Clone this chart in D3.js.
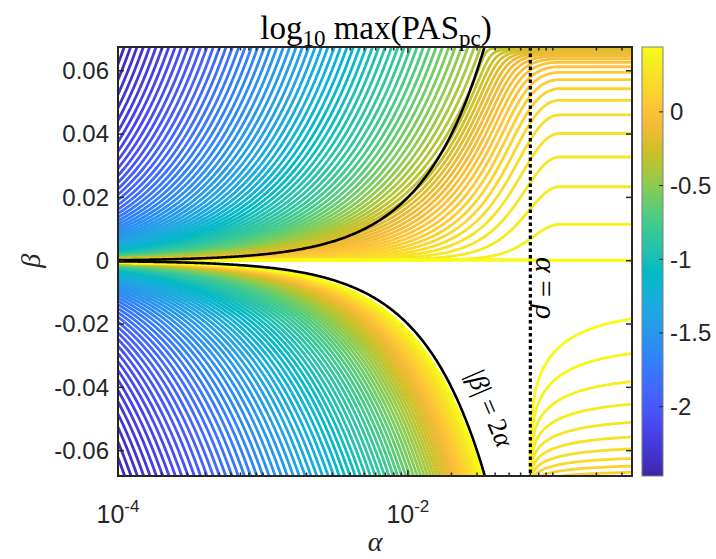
<!DOCTYPE html>
<meta charset="utf-8">
<script src="https://d3js.org/d3.v7.min.js"></script>
<style>
  body { margin: 0; background: #fff; }
</style>
<div id="my_dataviz"></div>
<script>

// axis limits and reference values
var alphaRange = [1e-4, 0.352];
var betaRange = [-0.068, 0.0675];
var rho = 0.07;

// colour limits and contour levels
var colorRange = [-2.47, 0.44];
var levelRange = [-2.45, 0.43];
var levelCount = 80;

// tick values
var yTicks = [-0.06, -0.04, -0.02, 0, 0.02, 0.04, 0.06];
var xMajor = [1e-4, 1e-2];
var xMajorLabels = ["-4", "-2"];
var cbTicks = [-2, -1.5, -1, -0.5, 0];

// parula colormap
var parula = ["#3e26a8","#4432cb","#4741e5","#4852f4","#4563fd","#3875fe","#2e87f7","#2797eb",
  "#20a5e3","#12b1d6","#02bac3","#24c1ae","#37c897","#57cc7a","#81cc59","#abc739",
  "#d1bf27","#f0ba36","#fec338","#fad62d","#f5e924","#f9fb15"];

// field shape
var leftPar = [0.83, 1.0, -0.30];          // d/dlog(alpha), d/dlog|beta|, offset
var capPar = [0.355, 0.068, 0.80];         // level reached for alpha >> rho, beta > 0
var blendEnd = 0.2;                        // decades past rho where that level is reached
var lowerBoost = [0.84, 1.24];             // rise towards |beta| = 2 alpha, beta < 0
var rightPar = [0.39, 0.075, 0.086, 0.908]; // alpha > rho, beta < 0

var W = 716, H = 559;
var box = {left: 118, top: 47, right: 632, bottom: 476};

var svg = d3.select("#my_dataviz").append("svg")
  .attr("width", W).attr("height", H);

var x = d3.scaleLog().domain(alphaRange).range([box.left, box.right]);
var y = d3.scaleLinear().domain(betaRange).range([box.bottom, box.top]);
var color = d3.scaleSequential(d3.piecewise(d3.interpolateRgb, parula)).domain(colorRange);

function leftField(a, B) {
  return leftPar[0] * Math.log10(a) - leftPar[1] * Math.log10(B) + leftPar[2];
}

function field(a, b) {
  var u = Math.log10(a), B = Math.abs(b);
  if (b >= 0) {
    var capInf = capPar[0] * Math.log10(Math.max(capPar[1] - b, 1e-6)) + capPar[2];
    if (b < 1e-7) return capInf;
    if (2 * a <= b) return leftField(a, b);
    // between |beta| = 2 alpha and a bit past alpha = rho
    var uc = Math.log10(b / 2), ue = Math.log10(rho) + blendEnd;
    var t = ue > uc ? Math.max(0, Math.min(1, (u - uc) / (ue - uc))) : 1;
    var S = Math.sin(Math.PI * t / 2);
    return leftField(b / 2, b) * (1 - S) + capInf * S;
  }
  if (a < rho) {
    var r = 2 * a / B;
    if (r >= 1) return 10;
    return leftField(a, B) + lowerBoost[0] * Math.pow(r, lowerBoost[1]);
  }
  return rightPar[0] * Math.log10(Math.max(rightPar[1] + b, 1e-6))
    - rightPar[2] * Math.log10(1 - rho / a) + rightPar[3];
}

// sample the field on a grid a bit wider than the axes
var pad = 6, step = 1.5;
var x0 = box.left - pad, y0 = box.top - pad;
var nx = Math.ceil((box.right - box.left + 2 * pad) / step) + 1;
var ny = Math.ceil((box.bottom - box.top + 2 * pad) / step) + 1;
var values = new Array(nx * ny);
for (var j = 0; j < ny; j++) {
  for (var i = 0; i < nx; i++) {
    var v = field(x.invert(x0 + i * step), y.invert(y0 + j * step));
    values[j * nx + i] = Math.max(-6, Math.min(10, v));
  }
}

var levels = d3.range(levelCount).map(function(k) {
  return levelRange[0] + k * (levelRange[1] - levelRange[0]) / (levelCount - 1);
});

var contours = d3.contours().size([nx, ny]).thresholds(levels)(values);

svg.append("clipPath").attr("id", "clip")
  .append("rect")
    .attr("x", box.left).attr("y", box.top)
    .attr("width", box.right - box.left).attr("height", box.bottom - box.top);

var ringLine = d3.line()
  .x(function(p) { return x(x.invert(x0 + (p[0] - 0.5) * step)); })
  .y(function(p) { return y(y.invert(y0 + (p[1] - 0.5) * step)); });

var gC = svg.append("g").attr("clip-path", "url(#clip)");
contours.forEach(function(c) {
  var d = "";
  c.coordinates.forEach(function(poly) {
    poly.forEach(function(ring) { d += ringLine(ring); });
  });
  gC.append("path")
    .attr("d", d)
    .attr("fill", "none")
    .attr("stroke", color(c.value))
    .attr("stroke-width", 2.8)
    .attr("stroke-linejoin", "round");
});

// |beta| = 2 alpha
var curveAlpha = d3.range(-4.2, -1.2, 0.01).map(function(e) { return Math.pow(10, e); });
[1, -1].forEach(function(s) {
  gC.append("path")
    .datum(curveAlpha)
    .attr("fill", "none")
    .attr("stroke", "#000")
    .attr("stroke-width", 2.6)
    .attr("d", d3.line()
      .x(function(a) { return x(a); })
      .y(function(a) { return y(s * 2 * a); }));
});

// alpha = rho
svg.append("line")
  .attr("x1", x(rho)).attr("x2", x(rho))
  .attr("y1", box.top).attr("y2", box.bottom)
  .attr("stroke", "#000")
  .attr("stroke-width", 3.2)
  .attr("stroke-dasharray", "3.5,3");

// frame and ticks
var axisCol = "#262626";
svg.append("rect")
  .attr("x", box.left).attr("y", box.top)
  .attr("width", box.right - box.left).attr("height", box.bottom - box.top)
  .attr("fill", "none").attr("stroke", axisCol).attr("stroke-width", 2);

var xMinor = [];
for (var e = -4; e <= -1; e++) {
  for (var m = 1; m <= 9; m++) {
    var t = m * Math.pow(10, e);
    if (t <= alphaRange[1] && xMajor.indexOf(t) < 0) xMinor.push(t);
  }
}
var gT = svg.append("g").attr("stroke", axisCol).attr("stroke-width", 1.5);
xMinor.forEach(function(t) {
  gT.append("line").attr("x1", x(t)).attr("x2", x(t)).attr("y1", box.bottom).attr("y2", box.bottom - 3.5);
  gT.append("line").attr("x1", x(t)).attr("x2", x(t)).attr("y1", box.top).attr("y2", box.top + 3.5);
});
xMajor.forEach(function(t) {
  gT.append("line").attr("x1", x(t)).attr("x2", x(t)).attr("y1", box.bottom).attr("y2", box.bottom - 6);
  gT.append("line").attr("x1", x(t)).attr("x2", x(t)).attr("y1", box.top).attr("y2", box.top + 6);
});
yTicks.forEach(function(t) {
  gT.append("line").attr("x1", box.left).attr("x2", box.left + 6).attr("y1", y(t)).attr("y2", y(t));
  gT.append("line").attr("x1", box.right).attr("x2", box.right - 6).attr("y1", y(t)).attr("y2", y(t));
});

var sans = "'Liberation Sans', Arial, Helvetica, sans-serif";
var serif = "'Liberation Serif', 'Times New Roman', serif";

svg.append("g").selectAll("text").data(yTicks).enter().append("text")
  .attr("x", box.left - 9)
  .attr("y", function(d) { return y(d); })
  .attr("dy", "0.35em")
  .attr("text-anchor", "end")
  .style("font-family", sans).style("font-size", "24px").style("fill", axisCol)
  .text(function(d) { return d === 0 ? "0" : d3.format(".2f")(d).replace("−", "-"); });

xMajor.forEach(function(t, k) {
  var tx = svg.append("text")
    .attr("x", x(t)).attr("y", 523)
    .attr("text-anchor", "middle")
    .style("font-family", sans).style("font-size", "25px").style("fill", axisCol);
  tx.append("tspan").text("10");
  tx.append("tspan").attr("dy", -11).style("font-size", "17px").text(xMajorLabels[k]);
});

// axis labels
svg.append("text")
  .attr("x", x(Math.sqrt(alphaRange[0] * alphaRange[1]))).attr("y", 551)
  .attr("text-anchor", "middle")
  .style("font-family", serif).style("font-style", "italic").style("font-size", "28px").style("fill", axisCol)
  .text("α");
svg.append("text")
  .attr("transform", "translate(40," + y(0) + ") rotate(-90)")
  .attr("text-anchor", "middle")
  .style("font-family", serif).style("font-style", "italic").style("font-size", "28px").style("fill", axisCol)
  .text("β");

// title
var title = svg.append("text")
  .attr("x", 376).attr("y", 39)
  .attr("text-anchor", "middle")
  .style("font-family", serif).style("font-size", "33px").style("fill", "#000");
title.append("tspan").text("log");
title.append("tspan").attr("dy", 7).style("font-size", "23px").text("10");
title.append("tspan").attr("dy", -7).text(" max(PAS");
title.append("tspan").attr("dy", 7).style("font-size", "23px").text("pc");
title.append("tspan").attr("dy", -7).text(")");

// annotations
svg.append("text")
  .attr("transform", "translate(536," + 288 + ") rotate(90)")
  .attr("text-anchor", "middle")
  .style("font-family", serif).style("font-size", "30px").style("fill", "#000")
  .html("<tspan font-style='italic'>α</tspan> = <tspan font-style='italic'>ρ</tspan>");
svg.append("text")
  .attr("transform", "translate(482,412) rotate(67)")
  .attr("text-anchor", "middle")
  .style("font-family", serif).style("font-size", "27px").style("fill", "#000")
  .html("|<tspan font-style='italic'>β</tspan>| = 2<tspan font-style='italic'>α</tspan>");

// colorbar
var cb = {left: 642, right: 663};
var cy = d3.scaleLinear().domain(colorRange).range([box.bottom, box.top]);
var grad = svg.append("defs").append("linearGradient")
  .attr("id", "cbgrad").attr("x1", 0).attr("x2", 0).attr("y1", 1).attr("y2", 0);
parula.forEach(function(c, k) {
  grad.append("stop").attr("offset", k / (parula.length - 1)).attr("stop-color", c);
});
svg.append("rect")
  .attr("x", cb.left).attr("y", box.top)
  .attr("width", cb.right - cb.left).attr("height", box.bottom - box.top)
  .attr("fill", "url(#cbgrad)")
  .attr("stroke", "#7f7f7f").attr("stroke-width", 1);
cbTicks.forEach(function(t) {
  svg.append("line")
    .attr("x1", cb.right).attr("x2", cb.right - 4)
    .attr("y1", cy(t)).attr("y2", cy(t))
    .attr("stroke", axisCol).attr("stroke-width", 1);
  svg.append("text")
    .attr("x", cb.right + 7).attr("y", cy(t)).attr("dy", "0.35em")
    .style("font-family", sans).style("font-size", "24px").style("fill", axisCol)
    .text(t === 0 ? "0" : String(t));
});

</script>
